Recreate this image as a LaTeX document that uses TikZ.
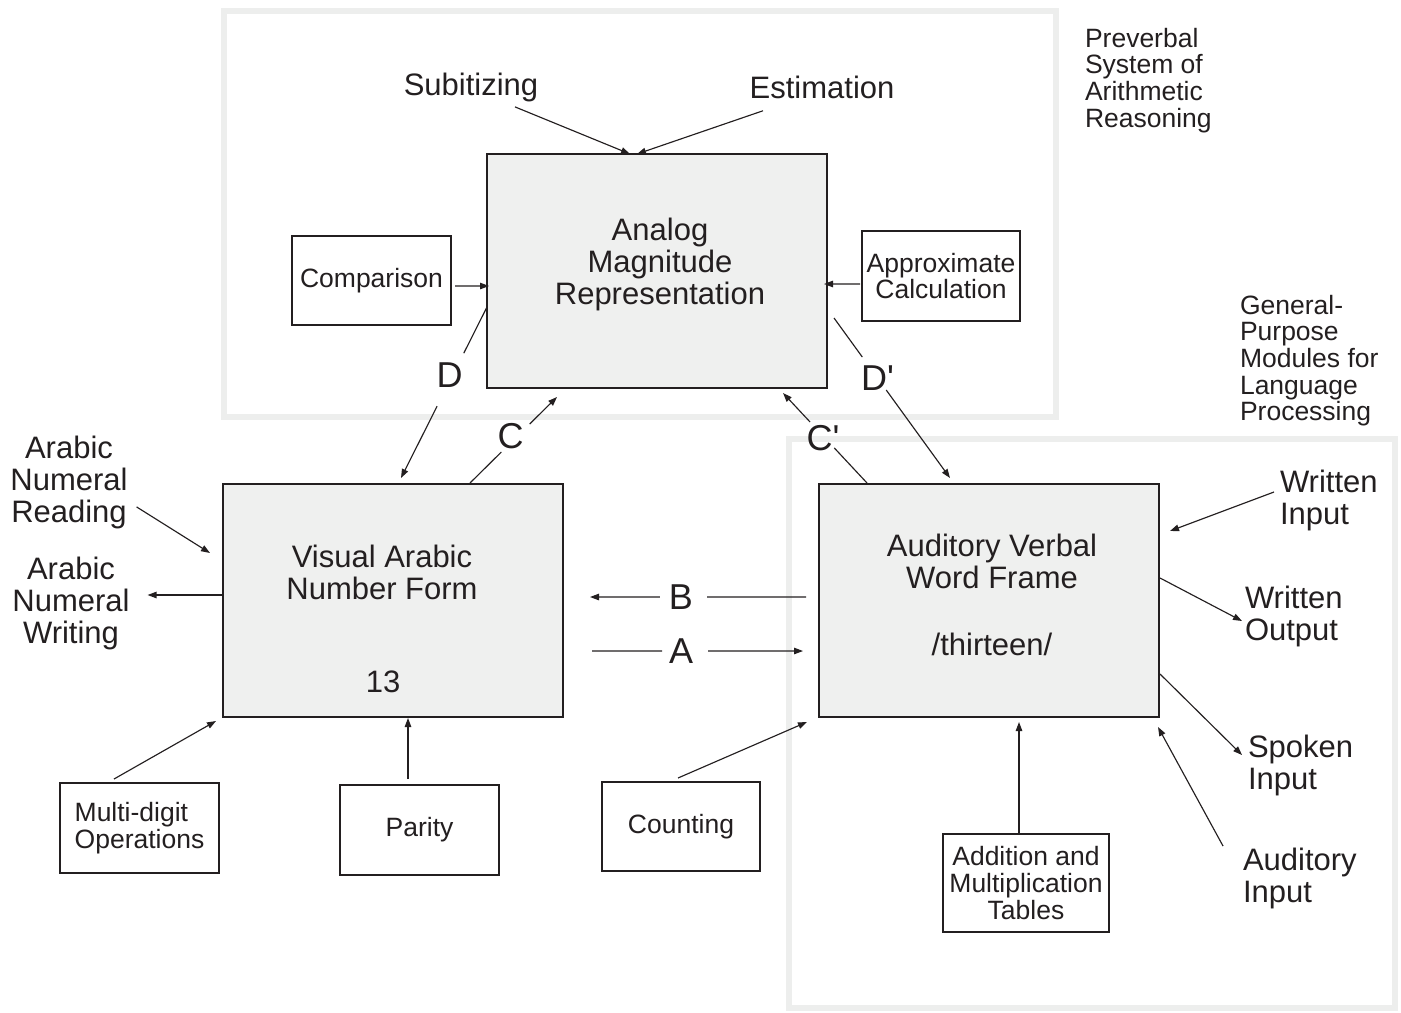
\documentclass[tikz,border=0pt]{standalone}
\usepackage{fontspec}
\setmainfont{Liberation Sans}
\usetikzlibrary{arrows.meta,calc}
\definecolor{ink}{RGB}{35,31,32}
\definecolor{panel}{RGB}{239,240,239}
\definecolor{regionline}{RGB}{237,238,237}
% straight prime mark, set as a glyph so no quote mapping applies
\newcommand{\prm}{\XeTeXglyph\XeTeXglyphindex "quotesingle"\relax}
\begin{document}
\begin{tikzpicture}[x=1bp,y=-1bp,
  bigtxt/.style={font=\fontsize{31bp}{32bp}\selectfont, text=ink, inner sep=0pt, outer sep=0pt, align=center},
  smalltxt/.style={font=\fontsize{26.5bp}{26.6bp}\selectfont, text=ink, inner sep=0pt, outer sep=0pt, align=center},
  lettertxt/.style={font=\fontsize{36bp}{36bp}\selectfont, text=ink, inner sep=0pt, outer sep=0pt},
  module/.style={draw=ink, line width=1.5bp, fill=panel, inner sep=0pt, outer sep=0pt, anchor=north west},
  taskbox/.style={draw=ink, line width=1.3bp, fill=white, inner sep=0pt, outer sep=0pt, anchor=north west,
    font=\fontsize{26.5bp}{26.6bp}\selectfont, text=ink, align=center},
  region/.style={draw=regionline, line width=6bp},
  link/.style={draw=ink, line width=1.15bp},
  arrowlink/.style={link, -{Triangle[length=9bp,width=6.5bp]}},
]
\useasboundingbox (0,0) rectangle (1401,1012);

% system frames
\draw[region] (224,11) rectangle (1056,417);
\draw[region] (789,439) rectangle (1395,1008);

% main representations
\node[module, minimum width=340bp, minimum height=234bp] (analog) at (487,154) {};
\node[module, minimum width=340bp, minimum height=233bp] (visual) at (223,484) {};
\node[module, minimum width=340bp, minimum height=233bp] (auditory) at (819,484) {};

\node[bigtxt, anchor=north] (analogtxt) at (660,218) {Analog\\Magnitude\\Representation};
\node[bigtxt, anchor=north] (visualtxt) at (382,545) {Visual Arabic\\Number Form};
\node[bigtxt, anchor=north] (visualnum) at (383,671) {13};
\node[bigtxt, anchor=north] (auditorytxt) at (992,534) {Auditory Verbal\\Word Frame};
\node[bigtxt, anchor=north] (auditoryword) at (992,633) {/thirteen/};

% task boxes
\node[taskbox, minimum width=159bp, minimum height=89bp] (comparison) at (292,236) {Comparison};
\node[taskbox, minimum width=158bp, minimum height=90bp] (approx) at (862,231) {Approximate\\Calculation};
\node[taskbox, minimum width=159bp, minimum height=90bp, align=left] (multidigit) at (60,783) {Multi-digit\\Operations};
\node[taskbox, minimum width=159bp, minimum height=90bp] (parity) at (340,785) {Parity};
\node[taskbox, minimum width=158bp, minimum height=89bp] (counting) at (602,782) {Counting};
\node[taskbox, minimum width=166bp, minimum height=98bp] (tables) at (943,834) {Addition and\\Multiplication\\Tables};

% free labels
\node[bigtxt, anchor=north] (subitizing) at (471,73) {Subitizing};
\node[bigtxt, anchor=north] (estimation) at (822,76) {Estimation};
\node[smalltxt, anchor=north west, align=left] (preverbal) at (1085,28) {Preverbal\\System of\\Arithmetic\\Reasoning};
\node[smalltxt, anchor=north west, align=left] (general) at (1240,295) {General-\\Purpose\\Modules for\\Language\\Processing};
\node[bigtxt, anchor=north] (reading) at (69,436) {Arabic\\Numeral\\Reading};
\node[bigtxt, anchor=north] (writing) at (71,557) {Arabic\\Numeral\\Writing};
\node[bigtxt, anchor=north west, align=left] (writtenin) at (1280,470) {Written\\Input};
\node[bigtxt, anchor=north west, align=left] (writtenout) at (1245,586) {Written\\Output};
\node[bigtxt, anchor=north west, align=left] (spoken) at (1248,735) {Spoken\\Input};
\node[bigtxt, anchor=north west, align=left] (audin) at (1243,848) {Auditory\\Input};

% inputs to the analog magnitude representation
\draw[arrowlink] ($(subitizing.south)+(44,5)$) -- ($(analog.north west)+(143,0)$);
\draw[arrowlink] ($(estimation.south)+(-59,12)$) -- ($(analog.north west)+(150,0)$);
\draw[arrowlink] ($(comparison.east)+(4,5.5)$) -- ($(analog.north west)+(2,132)$);
\draw[arrowlink] ($(approx.west)+(-2,8)$) -- ($(analog.north east)+(-3,130)$);

% route D
\coordinate (dA) at ($(analog.north west)+(0,153)$);
\coordinate (dB) at ($(visual.north west)+(178,-6)$);
\draw[link] (dA) -- ($(dA)!0.27!(dB)$);
\draw[arrowlink] ($(dA)!0.58!(dB)$) -- (dB);
\node[lettertxt] (labD) at ($(dA)!0.40!(dB)+(-3,0)$) {D};

% route C
\coordinate (cA) at ($(visual.north west)+(247,-1)$);
\coordinate (cB) at ($(analog.south west)+(70,9)$);
\draw[link] (cA) -- ($(cA)!0.36!(cB)$);
\draw[arrowlink] ($(cA)!0.686!(cB)$) -- (cB);
\node[lettertxt] (labC) at ($(cA)!0.547!(cB)+(-7,0)$) {C};

% route C'
\coordinate (cpA) at ($(auditory.north west)+(48,-1)$);
\coordinate (cpB) at ($(analog.south east)+(-44,5)$);
\draw[link] (cpA) -- ($(cpA)!0.39!(cpB)$);
\draw[arrowlink] ($(cpA)!0.678!(cpB)$) -- (cpB);
\node[lettertxt] (labCp) at ($(cpA)!0.5!(cpB)+(-2,0)$) {C\prm};

% route D'
\coordinate (dpA) at ($(analog.north east)+(7,164)$);
\coordinate (dpB) at ($(auditory.north west)+(131,-6)$);
\draw[link] (dpA) -- ($(dpA)!0.244!(dpB)$);
\draw[arrowlink] ($(dpA)!0.45!(dpB)$) -- (dpB);
\node[lettertxt] (labDp) at ($(dpA)!0.375!(dpB)$) {D\prm};

% route B
\coordinate (bA) at ($(auditory.north west)+(-13,113)$);
\coordinate (bB) at ($(visual.north east)+(27,113)$);
\draw[link] (bA) -- ($(bA)!0.458!(bB)$);
\draw[arrowlink] ($(bA)!0.676!(bB)$) -- (bB);
\node[lettertxt] (labB) at ($(bA)!0.579!(bB)$) {B};

% route A
\coordinate (aA) at ($(visual.north east)+(29,167)$);
\coordinate (aB) at ($(auditory.north west)+(-16,167)$);
\draw[link] (aA) -- ($(aA)!0.332!(aB)$);
\draw[arrowlink] ($(aA)!0.55!(aB)$) -- (aB);
\node[lettertxt] (labA) at ($(aA)!0.422!(aB)$) {A};

% visual Arabic number form
\draw[arrowlink] ($(reading.south east)+(9,-22)$) -- ($(visual.north west)+(-13,69)$);
\coordinate (wstart) at ($(visual.north west)+(0,111)$);
\draw[arrowlink] (wstart) -- ($(writing.east |- wstart)+(18,0)$);
\draw[arrowlink] ($(multidigit.north west)+(54,-4)$) -- ($(visual.south west)+(-7,4)$);
\draw[arrowlink] ($(parity.north west)+(68,-6)$) -- ($(visual.south west)+(185,1)$);

% auditory verbal word frame
\draw[arrowlink] ($(counting.north west)+(76,-4)$) -- ($(auditory.south west)+(-12,5)$);
\draw[arrowlink] ($(tables.north west)+(76,0)$) -- ($(auditory.south west)+(200,5)$);
\draw[arrowlink] ($(writtenin.north west)+(-6,22)$) -- ($(auditory.north east)+(11,47)$);
\draw[arrowlink] ($(auditory.north east)+(1,94)$) -- ($(writtenout.north west)+(-3,35)$);
\draw[arrowlink] ($(auditory.north east)+(1,190)$) -- ($(spoken.north west)+(-6,20)$);
\draw[arrowlink] ($(audin.north west)+(-20,-2)$) -- ($(auditory.south east)+(-1,10)$);
\end{tikzpicture}
\end{document}
